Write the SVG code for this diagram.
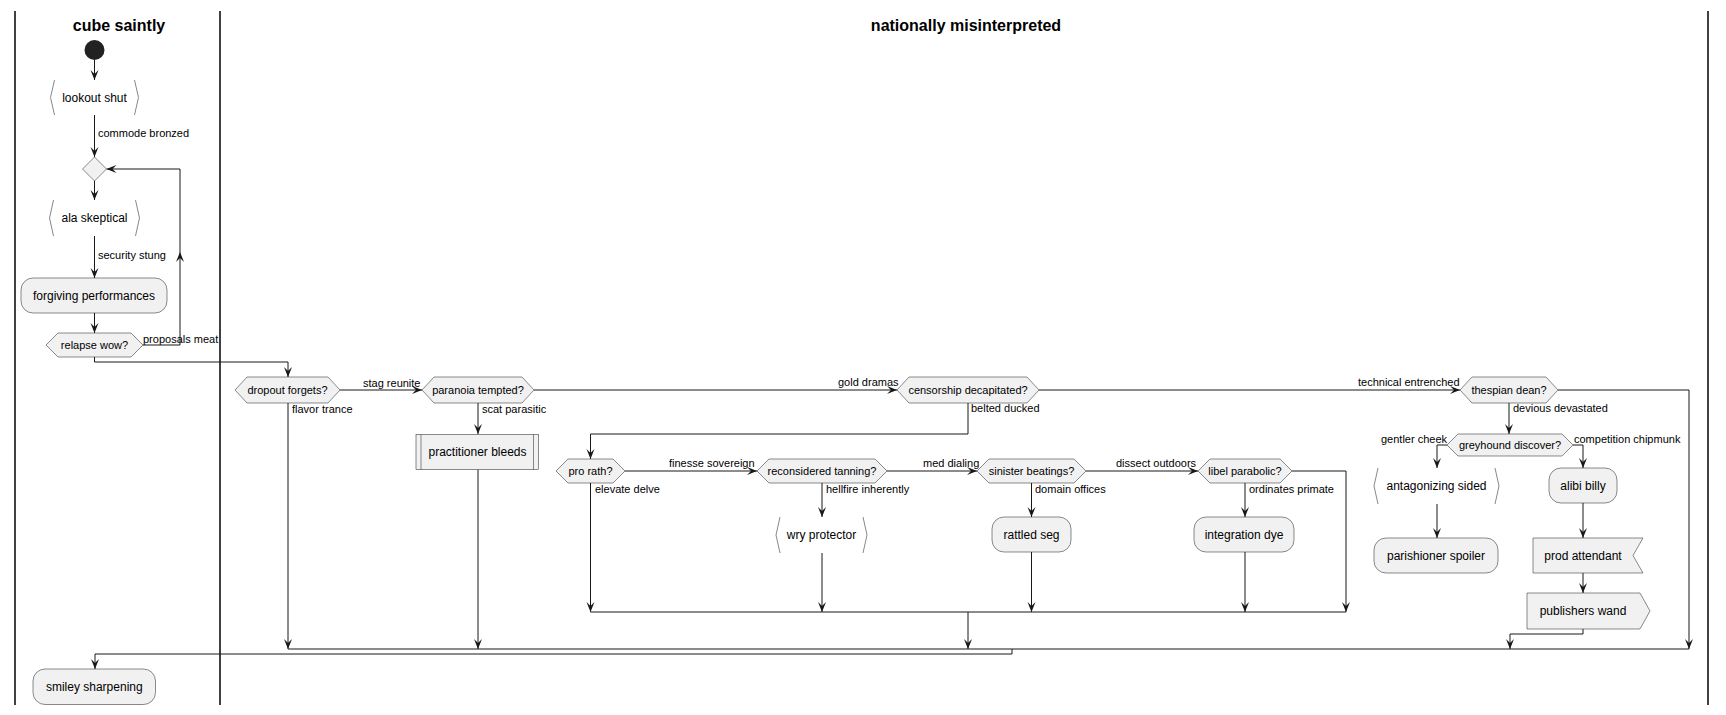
<svg xmlns="http://www.w3.org/2000/svg" width="1726" height="715" viewBox="0 0 1726 715">
<defs>
<marker id="ah" viewBox="0 0 10 10" markerWidth="10" markerHeight="10" markerUnits="userSpaceOnUse" refX="10" refY="5" orient="auto">
<path d="M0,1 L10,5 L0,9 L4,5 Z" fill="#181818"/>
</marker>
</defs>
<style>
text{font-family:"Liberation Sans",Arial,sans-serif;fill:#000}
.title{font-size:16px;font-weight:bold;text-anchor:middle}
.lane{stroke:#111;stroke-width:1.6;fill:none}
.n{fill:#F1F1F1;stroke:#181818;stroke-width:0.5}
.br{fill:none;stroke:#888;stroke-width:1}
.t12{font-size:12px;text-anchor:middle}
.t11{font-size:11px;text-anchor:middle}
.lbl{font-size:11px}
.c{fill:none;stroke:#181818;stroke-width:1}
.a{marker-end:url(#ah)}
</style>
<rect width="1726" height="715" fill="#fff"/>
<g id="lanes">
<line class="lane" x1="15" y1="11" x2="15" y2="705"/>
<line class="lane" x1="220" y1="11" x2="220" y2="705"/>
<line class="lane" x1="1708" y1="11" x2="1708" y2="705"/>
<text class="title" x="119" y="31">cube saintly</text>
<text class="title" x="966" y="31">nationally misinterpreted</text>
</g>
<g id="connectors">
<path class="c a" d="M94.5,60 V80"/>
<path class="c a" d="M94.5,115 V157"/>
<path class="c a" d="M94.5,181 V200"/>
<path class="c a" d="M94.5,236 V278"/>
<path class="c a" d="M94.5,313 V333"/>
<path class="c a" d="M143,345 H180 V252"/>
<path class="c a" d="M180,252 V169 H106.5"/>
<path class="c a" d="M94.5,357 V362 H288 V377"/>
<path class="c a" d="M340,390 H422"/>
<path class="c a" d="M288,403 V649"/>
<path class="c a" d="M534,390 H897"/>
<path class="c a" d="M478,403 V434"/>
<path class="c a" d="M478,469.5 V649"/>
<path class="c a" d="M1039,390 H1460"/>
<path class="c a" d="M968,403 V434 H590.5 V459"/>
<path class="c a" d="M625,471 H757"/>
<path class="c a" d="M590.5,483 V612"/>
<path class="c a" d="M887,471 H977"/>
<path class="c a" d="M822,483 V517"/>
<path class="c a" d="M822,553 V612"/>
<path class="c a" d="M1086,471 H1198"/>
<path class="c a" d="M1031.5,483 V517"/>
<path class="c a" d="M1031.5,552 V612"/>
<path class="c a" d="M1245,483 V517"/>
<path class="c a" d="M1245,552 V612"/>
<path class="c a" d="M1292,471 H1346 V612"/>
<path class="c" d="M590.5,612 H1346"/>
<path class="c a" d="M968,612 V649"/>
<path class="c a" d="M1558,390 H1689 V649"/>
<path class="c a" d="M1509,402 V434"/>
<path class="c a" d="M1447,445 H1437 V468"/>
<path class="c a" d="M1573,445 H1583 V468"/>
<path class="c a" d="M1437,504 V538"/>
<path class="c a" d="M1583,503 V538"/>
<path class="c a" d="M1583,573 V593"/>
<path class="c a" d="M1583,629 V634 H1510 V649"/>
<path class="c" d="M288,649 H1689"/>
<path class="c a" d="M1012,649 V654 H95 V669"/>
<text class="lbl" x="98" y="137">commode bronzed</text>
<text class="lbl" x="98" y="259">security stung</text>
<text class="lbl" x="143" y="343">proposals meat</text>
<text class="lbl" x="363" y="387">stag reunite</text>
<text class="lbl" x="292" y="413">flavor trance</text>
<text class="lbl" x="482" y="413">scat parasitic</text>
<text class="lbl" x="838" y="386">gold dramas</text>
<text class="lbl" x="971" y="412">belted ducked</text>
<text class="lbl" x="1358" y="386">technical entrenched</text>
<text class="lbl" x="1513" y="412">devious devastated</text>
<text class="lbl" x="1381" y="443">gentler cheek</text>
<text class="lbl" x="1574" y="443">competition chipmunk</text>
<text class="lbl" x="669" y="467">finesse sovereign</text>
<text class="lbl" x="923" y="467">med dialing</text>
<text class="lbl" x="1116" y="467">dissect outdoors</text>
<text class="lbl" x="595" y="493">elevate delve</text>
<text class="lbl" x="826" y="493">hellfire inherently</text>
<text class="lbl" x="1035" y="493">domain offices</text>
<text class="lbl" x="1249" y="493">ordinates primate</text>
</g>
<g id="start"><circle cx="94.5" cy="50" r="10" fill="#222"/></g>
<g id="lookout-shut">
<polyline class="br" points="54.5,80 50.5,97.5 54.5,115"/>
<polyline class="br" points="134.5,80 138.5,97.5 134.5,115"/>
<text class="t12" x="94.5" y="101.5">lookout shut</text>
</g>
<g id="merge"><polygon class="n" points="94.5,157 106.5,169 94.5,181 82.5,169"/></g>
<g id="ala-skeptical">
<polyline class="br" points="53.5,200 49.5,218 53.5,236"/>
<polyline class="br" points="135.5,200 139.5,218 135.5,236"/>
<text class="t12" x="94.5" y="222">ala skeptical</text>
</g>
<g id="forgiving-performances">
<rect class="n" x="21" y="278" width="146" height="35" rx="12"/>
<text class="t12" x="94" y="299.5">forgiving performances</text>
</g>
<g id="relapse-wow">
<polygon class="n" points="46,345 58,333 131,333 143,345 131,357 58,357"/>
<text class="t11" x="94.5" y="349">relapse wow?</text>
</g>
<g id="dropout-forgets">
<polygon class="n" points="235,390 247,377 328,377 340,390 328,403 247,403"/>
<text class="t11" x="287.5" y="394">dropout forgets?</text>
</g>
<g id="paranoia-tempted">
<polygon class="n" points="422,390 434,377 522,377 534,390 522,403 434,403"/>
<text class="t11" x="478" y="394">paranoia tempted?</text>
</g>
<g id="practitioner-bleeds">
<rect class="n" x="416" y="434.5" width="122.5" height="35"/>
<line class="n" x1="421" y1="434.5" x2="421" y2="469.5"/>
<line class="n" x1="533.5" y1="434.5" x2="533.5" y2="469.5"/>
<text class="t12" x="477.5" y="456">practitioner bleeds</text>
</g>
<g id="censorship-decapitated">
<polygon class="n" points="897,390 909,377 1027,377 1039,390 1027,403 909,403"/>
<text class="t11" x="968" y="394">censorship decapitated?</text>
</g>
<g id="thespian-dean">
<polygon class="n" points="1460,390 1472,377 1546,377 1558,390 1546,403 1472,403"/>
<text class="t11" x="1509" y="394">thespian dean?</text>
</g>
<g id="pro-rath">
<polygon class="n" points="556,471 568,459 613,459 625,471 613,483 568,483"/>
<text class="t11" x="590.5" y="475">pro rath?</text>
</g>
<g id="reconsidered-tanning">
<polygon class="n" points="757,471 769,459 875,459 887,471 875,483 769,483"/>
<text class="t11" x="822" y="475">reconsidered tanning?</text>
</g>
<g id="sinister-beatings">
<polygon class="n" points="977,471 989,459 1074,459 1086,471 1074,483 989,483"/>
<text class="t11" x="1031.5" y="475">sinister beatings?</text>
</g>
<g id="libel-parabolic">
<polygon class="n" points="1198,471 1210,459 1280,459 1292,471 1280,483 1210,483"/>
<text class="t11" x="1245" y="475">libel parabolic?</text>
</g>
<g id="wry-protector">
<polyline class="br" points="780,517 776,535 780,553"/>
<polyline class="br" points="863,517 867,535 863,553"/>
<text class="t12" x="821.5" y="539">wry protector</text>
</g>
<g id="rattled-seg">
<rect class="n" x="992" y="517" width="79" height="35" rx="12"/>
<text class="t12" x="1031.5" y="538.5">rattled seg</text>
</g>
<g id="integration-dye">
<rect class="n" x="1194" y="517" width="100" height="35" rx="12"/>
<text class="t12" x="1244" y="538.5">integration dye</text>
</g>
<g id="greyhound-discover">
<polygon class="n" points="1447,445 1458,434 1562,434 1573,445 1562,456 1458,456"/>
<text class="t11" x="1510" y="449">greyhound discover?</text>
</g>
<g id="antagonizing-sided">
<polyline class="br" points="1378,468 1374,486 1378,504"/>
<polyline class="br" points="1495,468 1499,486 1495,504"/>
<text class="t12" x="1436.5" y="490">antagonizing sided</text>
</g>
<g id="alibi-billy">
<rect class="n" x="1549" y="468" width="68" height="35" rx="12"/>
<text class="t12" x="1583" y="489.5">alibi billy</text>
</g>
<g id="parishioner-spoiler">
<rect class="n" x="1374" y="538" width="124" height="35" rx="12"/>
<text class="t12" x="1436" y="559.5">parishioner spoiler</text>
</g>
<g id="prod-attendant">
<polygon class="n" points="1533,538 1643,538 1633,555.5 1643,573 1533,573"/>
<text class="t12" x="1583" y="559.5">prod attendant</text>
</g>
<g id="publishers-wand">
<polygon class="n" points="1527,593 1640,593 1650,611 1640,629 1527,629"/>
<text class="t12" x="1583" y="615">publishers wand</text>
</g>
<g id="smiley-sharpening">
<rect class="n" x="33" y="669" width="122.5" height="35.5" rx="12"/>
<text class="t12" x="94.3" y="691">smiley sharpening</text>
</g>
</svg>
